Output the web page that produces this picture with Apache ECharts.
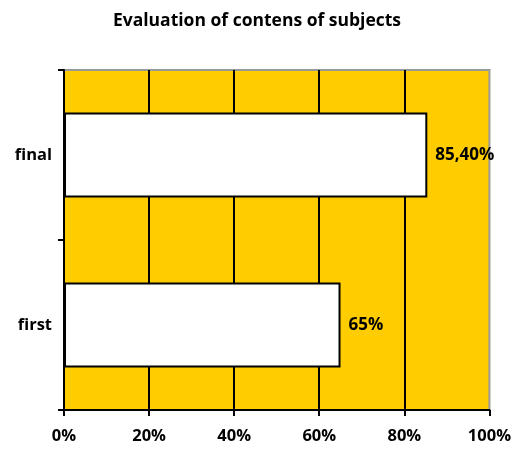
<!DOCTYPE html>
<html>
<head>
<meta charset="utf-8">
<script src="https://cdn.jsdelivr.net/npm/echarts@6/dist/echarts.min.js"></script>
<style>
  html, body { margin: 0; padding: 0; background: #fff; }
  #chart { width: 514px; height: 455px; }
</style>
</head>
<body>
<div id="chart"></div>
<script>
// data
var categories = ["first", "final"];
var values = [65, 85.4];
var valueLabels = ["65%", "85,40%"];
var xTicks = [0, 20, 40, 60, 80, 100];

var font = "'Open Sans', 'DejaVu Sans', sans-serif";
var chart = echarts.init(document.getElementById("chart"));

chart.setOption({
    animation: false,
    title: {
        text: "Evaluation of contens of subjects",
        left: "center",
        top: 7,
        textStyle: { fontFamily: font, fontSize: 17.5, fontWeight: "bold", color: "#000" }
    },
    grid: {
        left: 64, right: 24, top: 70, bottom: 45,
        show: true,
        backgroundColor: "#FFCC00",
        borderColor: "#999",
        borderWidth: 2
    },
    xAxis: {
        type: "value",
        min: 0,
        max: 100,
        interval: 20,
        axisLine: { show: true, lineStyle: { color: "#000", width: 2 } },
        axisTick: { show: true, length: 6, lineStyle: { color: "#000", width: 2 } },
        splitLine: { show: true, showMaxLine: false, lineStyle: { color: "#000", width: 2 } },
        axisLabel: {
            margin: 18,
            fontFamily: font, fontSize: 16.5, fontWeight: "bold", color: "#000",
            formatter: function (v) { return xTicks.indexOf(v) >= 0 ? v + "%" : ""; }
        }
    },
    yAxis: {
        type: "category",
        data: categories,
        axisLine: { show: true, lineStyle: { color: "#000", width: 2 } },
        axisTick: { show: true, length: 6, lineStyle: { color: "#000", width: 2 } },
        splitLine: { show: false },
        axisLabel: {
            margin: 12,
            fontFamily: font, fontSize: 16.5, fontWeight: "bold", color: "#000"
        }
    },
    series: [{
        type: "bar",
        data: values,
        barWidth: "50%",
        itemStyle: { color: "#fff", borderColor: "#000", borderWidth: 2 },
        label: {
            show: true,
            position: "right",
            distance: 8,
            fontFamily: font, fontSize: 17, fontWeight: "bold", color: "#000",
            formatter: function (p) { return valueLabels[p.dataIndex]; }
        }
    }]
});
</script>
</body>
</html>
